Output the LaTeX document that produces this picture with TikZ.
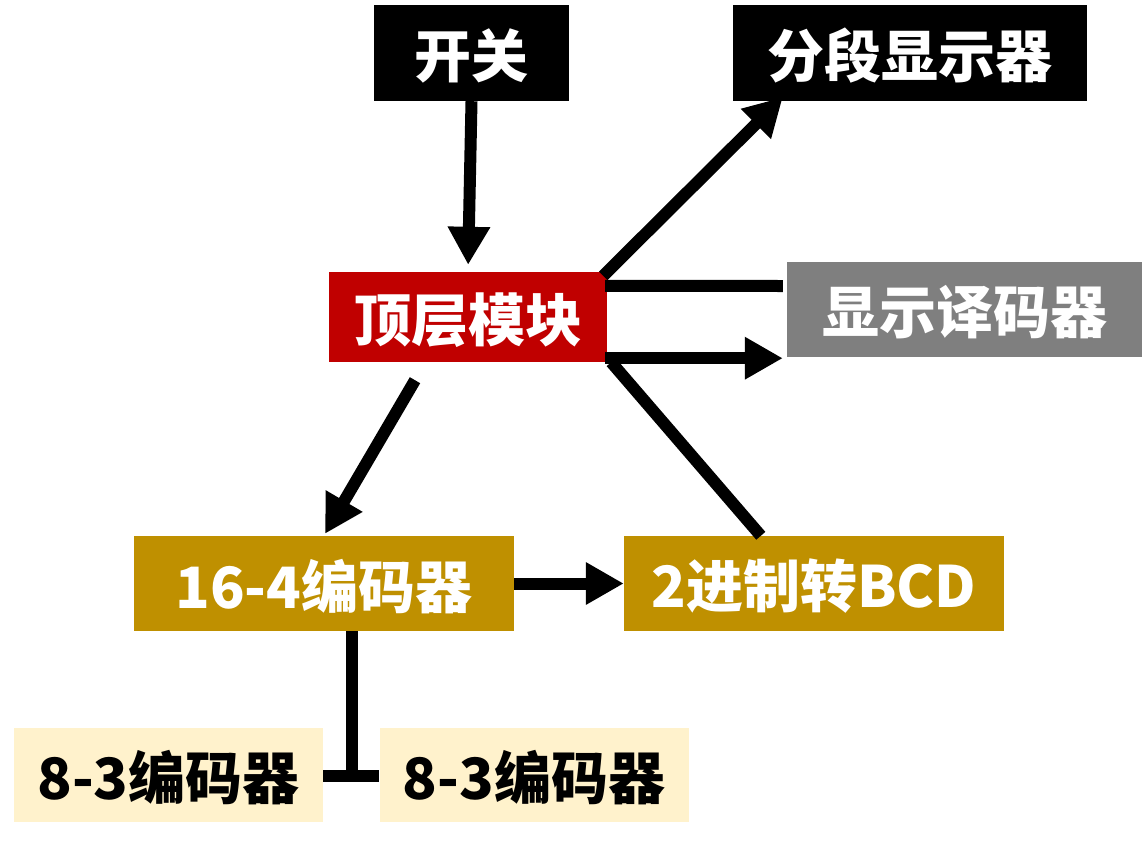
\documentclass[tikz,border=0pt]{standalone}
\usepackage{fontspec}
\newfontfamily\cjk{Noto Sans CJK SC}
\usetikzlibrary{arrows.meta,calc}
\definecolor{topred}{HTML}{C00000}
\definecolor{dgray}{HTML}{7F7F7F}
\definecolor{gold}{HTML}{BF9000}
\definecolor{cream}{HTML}{FFF2CC}
\newcommand{\lbl}[1]{\raisebox{-3pt}[\height][\depth]{#1}}
\tikzset{
  blk/.style={inner sep=0pt, font=\cjk\bfseries\fontsize{57}{60}\selectfont, text=white},
  blackbox/.style={blk, fill=black},
  redbox/.style={blk, fill=topred, minimum width=278pt, minimum height=90pt},
  graybox/.style={blk, fill=dgray, minimum width=355pt, minimum height=95pt},
  goldbox/.style={blk, fill=gold, minimum width=380pt, minimum height=95pt},
  creambox/.style={blk, fill=cream, text=black, minimum width=309pt, minimum height=94pt},
  conn/.style={line width=12pt, black},
  arr/.style={conn, -{Triangle[length=38pt,width=40pt]}},
}
\begin{document}
\begin{tikzpicture}[x=1pt,y=-1pt]
\useasboundingbox (0,0) rectangle (1147,846);
\node[blackbox, minimum width=195pt, minimum height=96pt] (kg) at (471.5,53) {\lbl{开关}};
\node[blackbox, minimum width=354pt, minimum height=96pt] (fd) at (910,53) {\lbl{分段显示器}};
\node[redbox] (top) at (468,317) {\lbl{顶层模块}};
\node[graybox] (xy) at (964.5,309.5) {\lbl{显示译码器}};
\node[goldbox] (e16) at (324,583.5) {\lbl{16-4编码器}};
\node[goldbox] (bcd) at (814,583.5) {\lbl{2进制转BCD}};
\node[creambox] (a83) at (168.5,775) {\lbl{8-3编码器}};
\node[creambox] (b83) at (534,775) {\lbl{8-3编码器}};

\draw[arr, shorten >=7pt] (kg.south) -- (top.north);
\draw[arr] ($(top.north east)+(-4,4)$) -- ($(fd.south west)+(50,-4)$);
\draw[conn] ($(top.north east)+(-2,14)$) -- ($(xy.west)+(-4,-23.5)$);
\draw[arr] ($(top.south east)+(-2,-4)$) -- ($(xy.south west)+(-4,1)$);
\draw[conn] ($(top.south east)+(4,0)$) -- ($(bcd.north west)+(137,0)$);
\draw[arr] ($(top.south)+(-53,18)$) -- ($(e16.north)+(1,-2)$);
\draw[arr] (e16.east) -- (bcd.west);
\draw[conn] ($(e16.south)+(28,0)$) |- ($(a83.east)+(0,1)$) coordinate (jn);
\draw[conn] (a83.east |- jn) -- (b83.west |- jn);
\end{tikzpicture}
\end{document}
